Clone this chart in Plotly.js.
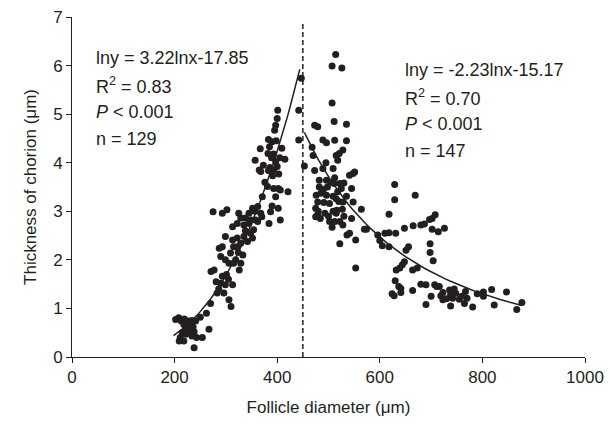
<!DOCTYPE html>
<html>
<head>
<meta charset="utf-8">
<script src="https://cdn.plot.ly/plotly-3.0.1.min.js"></script>
<style>html,body{margin:0;padding:0;background:#fff;}#chart{width:610px;height:430px;}</style>
</head>
<body>
<div id="chart"></div>
<script>
// ---- Data ----
// Left group (follicle diameter < 450 µm), n = 129
const leftX = [
  202,208,213,218,225,228,234,241,222,231,215,211,222,234,243,254,267,238,218,209,225,228,230,236,224,219,238,
  401,447,442,400,397,395,383,390,367,385,382,393,415,357,397,365,368,383,393,400,403,391,381,393,402,406,421,397,442,
  390,402,387,384,368,370,406,352,345,358,349,325,
  275,293,302,313,322,329,338,335,345,362,354,
  299,313,322,329,322,315,335,342,352,293,287,
  309,290,299,306,315,329,326,333,
  271,277,293,290,299,313,283,296,306,310,
  281,286,301,305,319,324,338,348,357,362,371,376,386,389,373,405,409,398,262,250,270
];
const leftY = [
  0.77,0.81,0.74,0.67,0.71,0.64,0.75,0.74,0.60,0.57,0.50,0.40,0.47,0.43,0.40,0.40,0.57,0.19,0.33,0.33,0.50,0.74,0.68,0.62,0.55,0.78,0.52,
  5.08,5.74,5.08,4.91,4.77,4.67,4.48,4.43,4.29,4.33,4.19,4.18,4.07,4.05,4.02,3.85,3.82,3.84,3.85,3.92,3.77,3.73,3.51,3.47,3.47,3.44,3.40,3.30,4.47,
  3.11,3.06,2.99,2.75,2.96,2.89,2.82,3.06,2.96,2.82,2.82,2.96,
  2.99,2.96,3.03,2.68,2.75,2.86,2.86,2.72,2.75,2.79,2.62,
  2.48,2.41,2.45,2.34,2.27,2.27,2.48,2.38,2.45,2.27,2.24,
  2.14,2.07,2.00,1.93,1.93,1.93,1.79,2.10,
  1.76,1.79,1.66,1.52,1.49,1.49,1.32,1.32,1.18,1.04,
  1.55,1.40,1.70,1.60,2.00,2.15,2.60,2.55,3.00,3.10,3.30,3.60,3.90,4.10,3.95,4.10,4.30,4.45,0.90,0.82,1.10
];
// Right group (follicle diameter > 450 µm), n = 147
const rightX = [
  514,507,526,507,511,535,473,479,489,496,512,535,468,528,515,521,470,518,453,473,489,509,548,551,541,
  496,512,482,522,530,482,498,525,545,476,496,509,515,535,479,502,528,548,479,493,509,515,475,502,512,522,528,541,574,
  629,629,669,618,564,570,596,610,618,631,648,665,680,687,697,702,708,702,714,726,
  605,618,651,656,698,698,704,648,639,632,644,664,673,630,637,641,624,628,641,664,690,707,711,716,719,723,736,738,742,748,755,738,723,690,767,770,
  781,802,802,818,823,847,867,877,
  511,485,491,520,516,527,475,484,507,536,553,522,553,
  490,505,518,480,500,530,545,495,760,745,730,765,790,700,680,600
];
const rightY = [
  6.23,5.99,5.95,5.23,4.85,4.79,4.77,4.74,4.47,4.41,4.46,4.45,4.32,4.26,4.15,4.19,4.15,4.05,3.93,3.84,3.88,3.88,3.78,3.81,3.74,
  3.64,3.69,3.64,3.57,3.58,3.50,3.50,3.47,3.47,3.33,3.33,3.31,3.26,3.31,3.19,3.16,3.19,3.19,2.93,2.96,3.00,2.96,3.06,2.79,2.79,2.79,2.72,2.55,2.63,
  3.55,3.24,3.33,2.94,3.04,2.63,2.51,2.55,2.56,2.55,2.65,2.70,2.72,2.74,2.83,2.85,2.93,2.63,2.58,2.65,
  2.29,2.27,2.20,2.27,2.33,2.15,1.98,1.96,1.83,1.79,1.90,1.79,1.83,1.57,1.45,1.41,1.30,1.26,1.33,1.37,1.49,1.49,1.45,1.45,1.26,1.33,1.38,1.28,1.21,1.31,1.19,1.05,1.18,1.08,1.35,1.21,
  1.03,1.34,1.25,1.39,1.07,1.34,0.98,1.12,
  3.57,3.37,3.18,3.20,3.02,3.04,2.89,2.85,2.67,2.51,2.41,2.33,1.83,
  3.45,3.60,3.40,3.00,2.90,2.90,2.85,4.00,1.25,1.40,1.20,1.10,1.30,1.25,1.50,2.40
];
// Power-law fits shown in the chart: ln y = a ln x + b
const leftFit = {a: 3.22, b: -17.85, xFrom: 198, xTo: 444};
const rightFit = {a: -2.23, b: 15.17, xFrom: 453, xTo: 877};
const dividerX = 450, dividerTop = 6.9;
const leftText = ["lny = 3.22lnx-17.85", "R<sup>2</sup> = 0.83", "<i>P</i> &lt; 0.001", "n = 129"];
const rightText = ["lny = -2.23lnx-15.17", "R<sup>2</sup> = 0.70", "<i>P</i> &lt; 0.001", "n = 147"];

function fitCurve(f) {
  const xs = [], ys = [];
  const steps = 60;
  for (let i = 0; i <= steps; i++) {
    const x = f.xFrom + (f.xTo - f.xFrom) * i / steps;
    xs.push(x);
    ys.push(Math.exp(f.a * Math.log(x) + f.b));
  }
  return {xs, ys};
}
const lf = fitCurve(leftFit), rf = fitCurve(rightFit);
const ink = 'rgb(35,31,32)';
const FONT = 'Liberation Sans, Arial, sans-serif';

const traces = [
  {x: [dividerX, dividerX], y: [0, dividerTop], mode: 'lines', line: {color: ink, width: 1.5, dash: '5px,3px'}, hoverinfo: 'skip'},
  {x: lf.xs, y: lf.ys, mode: 'lines', line: {color: ink, width: 1.5}},
  {x: rf.xs, y: rf.ys, mode: 'lines', line: {color: ink, width: 1.5}},
  {x: leftX, y: leftY, mode: 'markers', marker: {color: ink, size: 7}},
  {x: rightX, y: rightY, mode: 'markers', marker: {color: ink, size: 7}}
];

const annotations = [];
const lineGap = 27;
leftText.forEach((t, i) => annotations.push({xref: 'paper', yref: 'paper', x: 0.043, y: 1, xanchor: 'left', yanchor: 'middle',
  yshift: -(58 - 17) - i * lineGap, text: t, showarrow: false, font: {family: FONT, size: 18, color: ink}}));
rightText.forEach((t, i) => annotations.push({xref: 'paper', yref: 'paper', x: 0.645, y: 1, xanchor: 'left', yanchor: 'middle',
  yshift: -(70 - 17) - i * lineGap, text: t, showarrow: false, font: {family: FONT, size: 18, color: ink}}));

const layout = {
  width: 610, height: 430,
  margin: {l: 72, r: 25, t: 17, b: 73},
  paper_bgcolor: '#fff', plot_bgcolor: '#fff',
  showlegend: false,
  font: {family: FONT, size: 17, color: ink},
  xaxis: {
    range: [0, 1000], dtick: 200, tick0: 0, ticks: 'outside', ticklen: 5, tickcolor: ink, tickwidth: 1,
    showline: true, linecolor: ink, linewidth: 1, showgrid: false, zeroline: false,
    tickfont: {family: FONT, size: 17, color: ink},
    title: {text: 'Follicle diameter (μm)', font: {family: FONT, size: 17, color: ink}, standoff: 14}
  },
  yaxis: {
    range: [0, 7], dtick: 1, tick0: 0, ticks: 'outside', ticklen: 5, tickcolor: ink, tickwidth: 1,
    showline: true, linecolor: ink, linewidth: 1, showgrid: false, zeroline: false,
    tickfont: {family: FONT, size: 17, color: ink},
    title: {text: 'Thickness of chorion (μm)', font: {family: FONT, size: 17, color: ink}, standoff: 12}
  },
  annotations: annotations
};
Plotly.newPlot('chart', traces, layout, {displayModeBar: false, staticPlot: true});
</script>
</body>
</html>
